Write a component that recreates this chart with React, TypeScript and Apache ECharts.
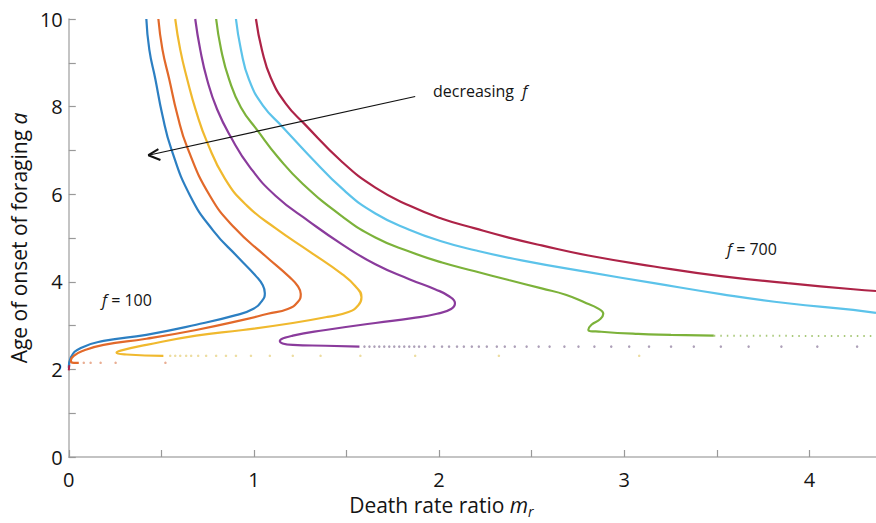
import React, { useEffect, useRef } from 'react';
import * as echarts from 'echarts';

const FONT = '"Open Sans", Lato, sans-serif';
const TXT = '#141414';

const fValues = [100, 200, 300, 400, 500, 600, 700];
const curveColors = ['#2c7fc2', '#e2692a', '#f0b92e', '#8a3b9c', '#7cb23a', '#5cc3ea', '#ad2347'];

// solid branches [m_r, a]
const curve100 = [
  [0.419, 10.0], [0.435, 9.3], [0.468, 8.62], [0.505, 7.82], [0.554, 7.03], [0.656, 5.96],
  [0.78, 5.17], [0.914, 4.56], [1.011, 4.13], [1.048, 3.92], [1.059, 3.74], [1.043, 3.56],
  [0.995, 3.38], [0.903, 3.24], [0.688, 3.02], [0.419, 2.79], [0.188, 2.65], [0.065, 2.49],
  [0.011, 2.27], [0.0, 2.04],
];
const curve200 = [
  [0.484, 10.0], [0.506, 9.3], [0.543, 8.62], [0.586, 7.82], [0.64, 7.07], [0.763, 5.96],
  [0.898, 5.22], [1.059, 4.6], [1.194, 4.1], [1.237, 3.9], [1.253, 3.72], [1.237, 3.54],
  [1.183, 3.38], [1.075, 3.27], [0.941, 3.13], [0.688, 2.9], [0.419, 2.7], [0.188, 2.56],
  [0.081, 2.43], [0.027, 2.31], [0.011, 2.2], [0.027, 2.15], [0.054, 2.15],
];
const curve300 = [
  [0.575, 10.0], [0.602, 9.3], [0.64, 8.62], [0.688, 7.89], [0.747, 7.19], [0.844, 6.35],
  [0.962, 5.74], [1.118, 5.22], [1.301, 4.69], [1.478, 4.17], [1.548, 3.9], [1.581, 3.65],
  [1.565, 3.47], [1.511, 3.31], [1.398, 3.2], [1.21, 3.06], [0.941, 2.9], [0.688, 2.77],
  [0.419, 2.56], [0.28, 2.43], [0.258, 2.38], [0.312, 2.34], [0.511, 2.31],
];
const curve400 = [
  [0.683, 10.0], [0.71, 9.3], [0.747, 8.62], [0.801, 7.94], [0.876, 7.3], [0.978, 6.62],
  [1.118, 5.96], [1.301, 5.37], [1.478, 4.85], [1.656, 4.4], [1.839, 4.06], [1.978, 3.83],
  [2.054, 3.67], [2.086, 3.51], [2.065, 3.38], [1.989, 3.27], [1.855, 3.17], [1.656, 3.06],
  [1.387, 2.9], [1.21, 2.77], [1.14, 2.65], [1.21, 2.56], [1.387, 2.54], [1.57, 2.52],
];
const curve500 = [
  [0.796, 10.0], [0.823, 9.3], [0.866, 8.62], [0.93, 7.98], [1.022, 7.44], [1.129, 6.85],
  [1.263, 6.24], [1.478, 5.49], [1.656, 5.01], [1.839, 4.69], [2.016, 4.44], [2.194, 4.24],
  [2.376, 4.04], [2.554, 3.85], [2.688, 3.7], [2.796, 3.51], [2.855, 3.4], [2.887, 3.27],
  [2.871, 3.15], [2.823, 3.02], [2.806, 2.9], [2.876, 2.86], [3.075, 2.81], [3.253, 2.79],
  [3.484, 2.77],
];
const curve600 = [
  [0.903, 10.0], [0.93, 9.3], [0.973, 8.62], [1.048, 8.03], [1.156, 7.53], [1.29, 6.92],
  [1.489, 6.08], [1.656, 5.56], [1.839, 5.19], [2.016, 4.92], [2.194, 4.72], [2.446, 4.49],
  [2.806, 4.22], [3.161, 3.97], [3.522, 3.72], [3.882, 3.51], [4.237, 3.36], [4.36, 3.29],
];
const curve700 = [
  [1.011, 10.0], [1.043, 9.3], [1.091, 8.66], [1.172, 8.07], [1.274, 7.6], [1.478, 6.73],
  [1.656, 6.15], [1.839, 5.74], [2.016, 5.44], [2.194, 5.22], [2.376, 5.01], [2.554, 4.83],
  [2.806, 4.6], [3.161, 4.35], [3.522, 4.13], [3.882, 3.97], [4.237, 3.83], [4.36, 3.79],
];
const curve700Low = [[0.003, 2.1], [0.0, 1.98]];

// sparsely sampled (dotted) parts
const dots200X = [0.081, 0.118, 0.172, 0.253, 0.522];
const dots200Y = 2.15;
const dots300X = [0.548, 0.575, 0.602, 0.634, 0.661, 0.699, 0.742, 0.796, 0.849, 0.903, 0.984, 1.086, 1.21, 1.36, 1.575, 1.871, 2.323, 3.081];
const dots300Y = 2.31;
const dots400X = [1.597, 1.624, 1.651, 1.677, 1.704, 1.731, 1.758, 1.785, 1.812, 1.839, 1.866, 1.892, 1.925, 1.973, 2.016, 2.054, 2.097, 2.134, 2.177, 2.215, 2.258, 2.312, 2.355, 2.409, 2.473, 2.538, 2.597, 2.677, 2.753, 2.839, 2.93, 3.027, 3.134, 3.253, 3.376, 3.522, 3.672, 3.849, 4.043, 4.258];
const dots400Y = 2.52;
const tail500 = [[3.484, 2.77], [4.36, 2.76]];

const arrowShaft = [[1.871, 8.23], [0.43, 6.89]];
const arrowHead = [[0.484, 7.03], [0.43, 6.89], [0.495, 6.78]];

const xTicks = [0, 1, 2, 3, 4];
const yTicks = [0, 2, 4, 6, 8, 10];

export default function App() {
  const ref = useRef<HTMLDivElement>(null);
  useEffect(() => {
    if (!ref.current) return;
    const chart = echarts.init(ref.current, null, { renderer: 'svg' });
    const curves = [curve100, curve200, curve300, curve400, curve500, curve600, curve700];
    const series: any[] = curves.map((c, i) => ({
      name: 'f = ' + fValues[i],
      type: 'line',
      data: c,
      smooth: 0.5,
      showSymbol: false,
      symbol: 'none',
      lineStyle: { color: curveColors[i], width: 2.2 },
      z: 3,
    }));
    series.push({
      name: 'f = 700 low', type: 'line', data: curve700Low, symbol: 'none',
      lineStyle: { color: curveColors[6], width: 2 },
    });
    series.push({
      name: 'f = 200 sparse', type: 'scatter', symbolSize: 2.5,
      data: dots200X.map((x) => [x, dots200Y]),
      itemStyle: { color: '#e49a78' },
    });
    series.push({
      name: 'f = 300 sparse', type: 'scatter', symbolSize: 2.5,
      data: dots300X.map((x) => [x, dots300Y]),
      itemStyle: { color: '#e8d48a' },
    });
    series.push({
      name: 'f = 400 sparse', type: 'scatter', symbolSize: 2.5,
      data: dots400X.map((x) => [x, dots400Y]),
      itemStyle: { color: '#9a8aa8' },
    });
    series.push({
      name: 'f = 500 sparse', type: 'line', data: tail500, symbol: 'none',
      lineStyle: { color: '#a9c97a', width: 2, type: [1.5, 5] },
    });
    series.push({
      name: 'arrow', type: 'line', data: arrowShaft, symbol: 'none',
      lineStyle: { color: '#111', width: 1.2 }, z: 5,
    });
    series.push({
      name: 'arrow head', type: 'line', data: arrowHead, symbol: 'none',
      lineStyle: { color: '#111', width: 2 }, z: 5,
    });

    const rich = (size: number) => ({
      t: { fontSize: size, fontFamily: FONT, color: TXT },
      i: { fontSize: size, fontFamily: FONT, fontStyle: 'italic', color: TXT },
    });
    const grich = (size: number) => ({
      t: { fontSize: size, fontFamily: FONT, fill: TXT },
      i: { fontSize: size, fontFamily: FONT, fontStyle: 'italic', fill: TXT },
    });

    chart.setOption({
      animation: false,
      grid: { left: 65, right: 0, top: 19, bottom: 63 },
      xAxis: {
        type: 'value', min: 0, max: 4.36, interval: 0.5,
        axisLine: { show: true, lineStyle: { color: '#b0b0b0', width: 1.5 } },
        axisTick: { show: true, inside: true, length: 7, lineStyle: { color: '#999', width: 1.2 } },
        splitLine: { show: false },
        axisLabel: {
          formatter: (v: number) => (xTicks.includes(v) ? String(v) : ''),
          fontSize: 20, color: TXT, margin: 12, fontFamily: FONT, showMaxLabel: false,
        },
        name: '{t|Death rate ratio }{i|m}{s|r}',
        nameLocation: 'middle', nameGap: 35,
        nameTextStyle: {
          padding: [0, 62, 0, 0],
          rich: {
            ...rich(21),
            s: { fontSize: 14, fontFamily: FONT, fontStyle: 'italic', color: TXT, padding: [12, 0, 0, 0] },
          },
        },
      },
      yAxis: {
        type: 'value', min: 0, max: 10, interval: 1,
        axisLine: { show: true, lineStyle: { color: '#b0b0b0', width: 1.5 } },
        axisTick: { show: true, inside: true, length: 7, lineStyle: { color: '#999', width: 1.2 } },
        splitLine: { show: false },
        axisLabel: {
          formatter: (v: number) => (yTicks.includes(v) ? String(v) : ''),
          fontSize: 20, color: TXT, margin: 6, fontFamily: FONT,
        },
        name: '{t|Age of onset of foraging }{i|a}',
        nameLocation: 'middle', nameGap: 38,
        nameTextStyle: { rich: rich(21) },
      },
      graphic: [
        {
          type: 'text', left: 433, top: 83,
          style: { text: '{t|decreasing  }{i|f}', rich: grich(16) },
        },
        {
          type: 'text', left: 102, top: 292,
          style: { text: '{i|f}{t| = 100}', rich: grich(16) },
        },
        {
          type: 'text', left: 727, top: 241,
          style: { text: '{i|f}{t| = 700}', rich: grich(16) },
        },
      ],
      series,
    });
    return () => chart.dispose();
  }, []);
  return <div ref={ref} style={{ width: 876, height: 523, position: 'absolute', left: 0, top: 0 }} />;
}
